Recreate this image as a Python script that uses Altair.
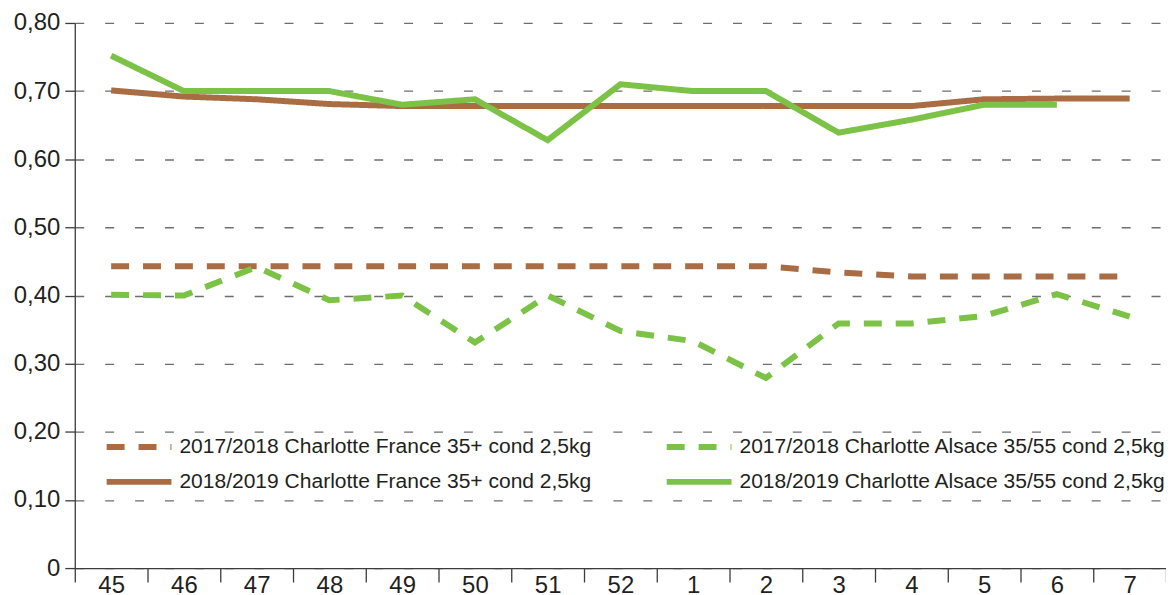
import altair as alt
import pandas as pd

weeks = ["45", "46", "47", "48", "49", "50", "51", "52", "1", "2", "3", "4", "5", "6", "7"]

# legend fills column by column: first column France, second column Alsace
series_names = [
    "2017/2018 Charlotte France 35+ cond 2,5kg",
    "2018/2019 Charlotte France 35+ cond 2,5kg",
    "2017/2018 Charlotte Alsace 35/55 cond 2,5kg",
    "2018/2019 Charlotte Alsace 35/55 cond 2,5kg",
]

france_1718 = [0.443, 0.443, 0.443, 0.443, 0.443, 0.443, 0.443, 0.443, 0.443, 0.443, 0.434, 0.428, 0.428, 0.428, 0.428]
france_1819 = [0.701, 0.692, 0.688, 0.681, 0.678, 0.678, 0.678, 0.678, 0.678, 0.678, 0.678, 0.678, 0.688, 0.689, 0.689]
alsace_1718 = [0.401, 0.400, 0.442, 0.393, 0.400, 0.331, 0.400, 0.348, 0.333, 0.279, 0.359, 0.359, 0.370, 0.402, 0.369]
alsace_1819 = [0.752, 0.700, 0.700, 0.700, 0.680, 0.688, 0.628, 0.710, 0.700, 0.700, 0.639, 0.658, 0.680, 0.680, None]

colors = ["#A96C43", "#A96C43", "#7BC247", "#7BC247"]
dashes = [[18, 14], [1, 0], [18, 14], [1, 0]]

rows = []
draw_order = [(series_names[0], france_1718), (series_names[2], alsace_1718),
              (series_names[1], france_1819), (series_names[3], alsace_1819)]
for name, vals in draw_order:
    for w, v in zip(weeks, vals):
        if v is not None:
            rows.append({"week": w, "value": v, "series": name})
df = pd.DataFrame(rows)

FONT = "Liberation Sans"
TXT = "#231f20"

chart = alt.Chart(df).mark_line(strokeWidth=6, strokeCap="butt", strokeJoin="miter").encode(
    x=alt.X(
        "week:O",
        sort=weeks,
        bandPosition=0.5,
        scale=alt.Scale(type="band", domain=weeks, paddingInner=0, paddingOuter=0),
        axis=alt.Axis(
            title=None,
            labelAngle=0,
            tickBand="extent",
            tickSize=14,
            labelPadding=-8,
            labelFontSize=24,
            labelFont=FONT,
            labelColor=TXT,
            domainColor="#3c3c3c",
            tickColor="#3c3c3c",
            domainWidth=1.3,
            tickWidth=1.3,
            grid=False,
        ),
    ),
    y=alt.Y(
        "value:Q",
        scale=alt.Scale(domain=[0, 0.8], nice=False),
        axis=alt.Axis(
            title=None,
            values=[0, 0.1, 0.2, 0.3, 0.4, 0.5, 0.6, 0.7, 0.8],
            labelExpr="datum.value == 0 ? '0' : replace(format(datum.value, '.2f'), '.', ',')",
            tickSize=10,
            labelPadding=5,
            labelFontSize=24,
            labelFont=FONT,
            labelColor=TXT,
            domainColor="#3c3c3c",
            tickColor="#3c3c3c",
            domainWidth=1.3,
            tickWidth=1.3,
            grid=True,
            gridDash=[9, 21],
            gridColor="#6e6e6e",
            gridWidth=1.3,
        ),
    ),
    color=alt.Color(
        "series:N",
        scale=alt.Scale(domain=series_names, range=colors),
        sort=series_names,
        legend=alt.Legend(title=None),
    ),
    strokeDash=alt.StrokeDash(
        "series:N",
        scale=alt.Scale(domain=series_names, range=dashes),
        sort=series_names,
        legend=alt.Legend(title=None),
    ),
    detail="series:N",
).properties(
    width=1095,
    height=547,
    autosize=alt.AutoSizeParams(type="none"),
    padding={"left": 67, "top": 14, "right": 0, "bottom": 24},
).configure_view(
    stroke=None
).configure_legend(
    orient="none",
    legendX=29,
    legendY=415,
    columns=2,
    columnPadding=72,
    rowPadding=13,
    clipHeight=21,
    symbolType="stroke",
    symbolSize=4225,
    symbolStrokeWidth=6,
    labelFontSize=21.1,
    labelFont=FONT,
    labelColor=TXT,
    labelOffset=5,
    labelLimit=0,
    padding=0,
)

chart.save("out.html", embed_options={"renderer": "svg", "actions": False})
